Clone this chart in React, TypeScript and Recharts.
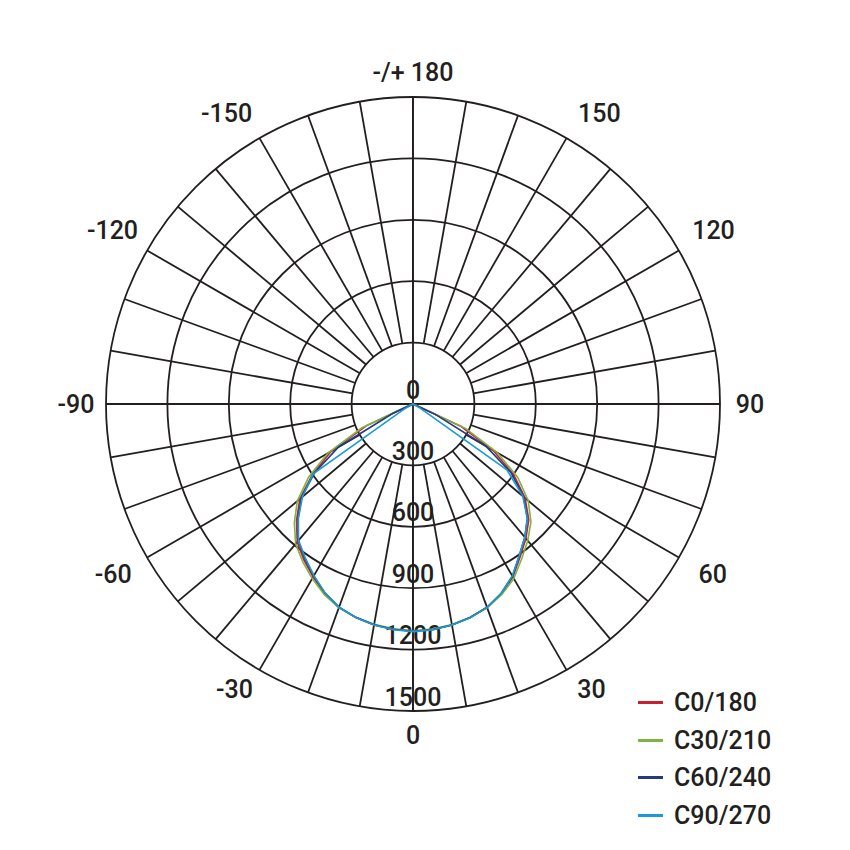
import { RadarChart, Radar, PolarGrid, PolarAngleAxis, PolarRadiusAxis, Legend } from 'recharts';

// Polar luminous intensity diagram (cd/klm), four C-planes.
// Two charts share one centre: the lower one draws grid + labels every 10°,
// the upper one draws the curves at 5° steps.

const SIZE = 850;
const CX = 413;
const CY = 404;
const OUTER = 307;
const INK = '#231f20';
const FONT = 'Roboto, "DejaVu Sans", sans-serif';

const RADIUS_DOMAIN = [0, 1500];
const RADIUS_TICK_COUNT = 6;

// gamma angles where light leaves the luminaire (0 = straight down)
const BEAM_ANGLES = [
  -70, -65, -60, -55, -50, -45, -40, -35, -30, -25, -20, -15, -10, -5, 0,
  5, 10, 15, 20, 25, 30, 35, 40, 45, 50, 55, 60, 65, 70,
];

const C0_180 = [
  0, 250, 462, 600, 722, 805, 880, 930, 976, 1022, 1058, 1080, 1096, 1105, 1110,
  1106, 1096, 1080, 1058, 1022, 976, 912, 858, 800, 715, 600, 450, 260, 0,
];
const C30_210 = [
  15, 275, 480, 622, 738, 820, 892, 940, 985, 1027, 1060, 1079, 1093, 1103, 1108,
  1104, 1094, 1079, 1060, 1027, 985, 925, 872, 815, 735, 625, 475, 285, 20,
];
const C60_240 = [
  0, 110, 420, 588, 712, 795, 872, 922, 970, 1018, 1056, 1079, 1095, 1105, 1110,
  1106, 1096, 1080, 1057, 1020, 972, 905, 850, 790, 705, 585, 410, 120, 0,
];
const C90_270 = [
  0, 0, 50, 595, 705, 792, 870, 918, 968, 1018, 1057, 1080, 1096, 1107, 1112,
  1108, 1097, 1081, 1058, 1020, 970, 905, 850, 790, 700, 560, 40, 0, 0,
];

const SERIES = [
  { key: 'c0', name: 'C0/180', color: '#c8202f', values: C0_180 },
  { key: 'c30', name: 'C30/210', color: '#7db443', values: C30_210 },
  { key: 'c60', name: 'C60/240', color: '#233a80', values: C60_240 },
  { key: 'c90', name: 'C90/270', color: '#1a9ad8', values: C90_270 },
];

// where each angle label sits: distance from centre, and a nudge (deg) away
// from the vertical axis
const LABEL_POS: Record<number, { r: number; nudge: number }> = {
  0: { r: 331, nudge: 0 },
  30: { r: 337, nudge: 2 },
  60: { r: 345, nudge: 0.3 },
  90: { r: 337, nudge: 0 },
  120: { r: 347, nudge: 0 },
  150: { r: 345, nudge: 2.7 },
  180: { r: 332, nudge: 0 },
};

// categories run clockwise from the top (180) so the default start angle works
const gridRows = Array.from({ length: 36 }, (_, i) => ({ angle: 180 - i * 10, base: 0 }));

const dataRows = Array.from({ length: 72 }, (_, i) => {
  const angle = 180 - i * 5;
  const idx = BEAM_ANGLES.indexOf(angle);
  const row: Record<string, number> = { angle };
  SERIES.forEach((s) => {
    row[s.key] = idx >= 0 ? s.values[idx] : 0;
  });
  return row;
});

const textStyle = { fontFamily: FONT, fontWeight: 500, fontSize: 25, fill: INK };

function AngleTick(props: any) {
  const { payload } = props;
  const v = Number(payload.value);
  if (v % 30 !== 0) return <g />;
  const abs = Math.abs(v);
  const pos = LABEL_POS[abs];
  // push the label away from the 0/180 axis
  const g = abs < 90 ? abs + pos.nudge : abs > 90 ? abs - pos.nudge : abs;
  const rad = (Math.sign(v || 1) * g * Math.PI) / 180;
  const x = CX + pos.r * Math.sin(rad);
  const y = CY + pos.r * Math.cos(rad);
  return (
    <text x={x} y={y} textAnchor="middle" dominantBaseline="central" style={textStyle}>
      {v === 180 ? '-/+ 180' : String(v)}
    </text>
  );
}

function RadiusTick(props: any) {
  const { x, y, payload } = props;
  return (
    <text x={x} y={y - 14} textAnchor="middle" dominantBaseline="central" style={textStyle}>
      {payload.value}
    </text>
  );
}

function LegendBox() {
  return (
    <div style={{ fontFamily: FONT, fontWeight: 500, fontSize: 25, color: INK }}>
      {SERIES.map((s) => (
        <div key={s.key} style={{ display: 'flex', alignItems: 'center', height: 37.5 }}>
          <span
            style={{ display: 'inline-block', width: 25, height: 3, background: s.color, marginRight: 11 }}
          />
          <span>{s.name}</span>
        </div>
      ))}
    </div>
  );
}

const chartProps = {
  width: SIZE,
  height: SIZE,
  cx: CX,
  cy: CY,
  outerRadius: OUTER,
  margin: { top: 0, right: 0, bottom: 0, left: 0 },
};

export default function App() {
  return (
    <div style={{ position: 'absolute', left: 0, top: 0, width: SIZE, height: SIZE, background: '#fff' }}>
      {/* grid + labels */}
      <div style={{ position: 'absolute', left: 0, top: 0 }}>
        <RadarChart {...chartProps} data={gridRows}>
          <PolarGrid
            gridType="circle"
            polarAngles={[0, 90, 180, 270]}
            stroke={INK}
            strokeWidth={1.8}
          />
          <PolarAngleAxis
            dataKey="angle"
            orientation="inner"
            tickSize={OUTER - OUTER / 5}
            axisLine={false}
            stroke={INK}
            tickLine={{ stroke: INK, strokeWidth: 1.8 }}
            tick={AngleTick}
          />
          <PolarRadiusAxis
            angle={-90}
            domain={RADIUS_DOMAIN}
            tickCount={RADIUS_TICK_COUNT}
            axisLine={false}
            tick={RadiusTick}
          />
          <Radar dataKey="base" stroke="none" fill="none" isAnimationActive={false} />
        </RadarChart>
      </div>

      {/* curves */}
      <div style={{ position: 'absolute', left: 0, top: 0 }}>
        <RadarChart {...chartProps} data={dataRows}>
          <PolarAngleAxis dataKey="angle" tick={false} tickLine={false} axisLine={false} />
          <PolarRadiusAxis
            domain={RADIUS_DOMAIN}
            tickCount={RADIUS_TICK_COUNT}
            tick={false}
            axisLine={false}
          />
          {SERIES.map((s) => (
            <Radar
              key={s.key}
              name={s.name}
              dataKey={s.key}
              stroke={s.color}
              strokeWidth={1.6}
              fill="none"
              fillOpacity={0}
              dot={false}
              isAnimationActive={false}
            />
          ))}
          <Legend
            layout="horizontal"
            verticalAlign="middle"
            align="center"
            content={LegendBox}
            wrapperStyle={{ left: 638, top: 684, width: 190 }}
          />
        </RadarChart>
      </div>
    </div>
  );
}
